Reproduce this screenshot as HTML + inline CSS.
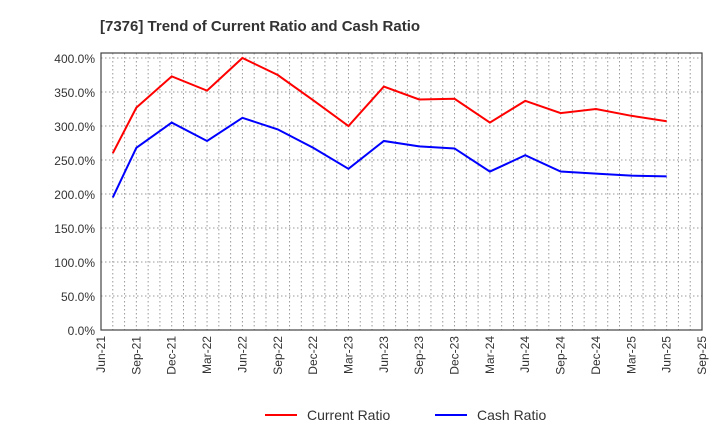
<!DOCTYPE html>
<html><head><meta charset="utf-8"><style>
body{margin:0;background:#fff;font-family:"Liberation Sans",sans-serif}
svg text{font-family:"Liberation Sans",sans-serif}
</style></head><body>
<svg width="720" height="440">
<text x="100" y="31" font-size="15" font-weight="bold" fill="#333">[7376]  Trend of Current Ratio and Cash Ratio</text>
<g id="grid"></g><g id="axes"></g><g id="series"></g>
<g>
<line x1="265" y1="415" x2="297" y2="415" stroke="#f00" stroke-width="2"/>
<text x="307" y="420" font-size="14" fill="#333">Current Ratio</text>
<line x1="435" y1="415" x2="467" y2="415" stroke="#00f" stroke-width="2"/>
<text x="477" y="420" font-size="14" fill="#333">Cash Ratio</text>
</g>
</svg>
<script>
const months=[1,3,6,9,12,15,18,21,24,27,30,33,36,39,42,45,48];
const currentRatio=[260,327,373,352,400,375,338,300,358,339,340,305,337,319,325,315,307];
const cashRatio=[195,268,305,278,312,295,268,237,278,270,267,233,257,233,230,227,226];
const xLabels=["Jun-21","Sep-21","Dec-21","Mar-22","Jun-22","Sep-22","Dec-22","Mar-23","Jun-23","Sep-23","Dec-23","Mar-24","Jun-24","Sep-24","Dec-24","Mar-25","Jun-25","Sep-25"];
const yTicks=[0,50,100,150,200,250,300,350,400];
const L=101,R=702,T=53,B=330,NS="http://www.w3.org/2000/svg";
const x=m=>L+(R-L)*m/51, y=v=>B-(v/400)*(B-58);
function mk(t,a,p){const e=document.createElementNS(NS,t);for(const k in a)e.setAttribute(k,a[k]);p.appendChild(e);return e;}
const g=document.getElementById('grid'),ax=document.getElementById('axes'),s=document.getElementById('series');
for(let m=1;m<51;m++){const l=mk('line',{x1:x(m),x2:x(m),y1:T,y2:B,stroke:'#999','stroke-dasharray':'1.5,2.5','stroke-width':1},g);

}
yTicks.forEach(v=>{const l=mk('line',{x1:L,x2:R,y1:y(v),y2:y(v),stroke:'#999','stroke-dasharray':'1.5,2.5','stroke-width':1},g);


const t=mk('text',{x:L-6,y:y(v)+5,'text-anchor':'end','font-size':12,fill:'#333'},ax);t.textContent=v.toFixed(1)+'%';

});
const f=mk('rect',{x:L,y:T,width:R-L,height:B-T,fill:'none',stroke:'#444','stroke-width':1.2},ax);


xLabels.forEach((lab,i)=>{const xx=x(i*3);const t=mk('text',{x:xx+4,y:B+6,'text-anchor':'end','font-size':12,fill:'#333',transform:`rotate(-90 ${xx+4} ${B+6})`},ax);t.textContent=lab;

});
[[currentRatio,'#f00','current-ratio-line'],[cashRatio,'#00f','cash-ratio-line']].forEach(([d,c,n])=>{
const p=mk('polyline',{points:d.map((v,i)=>x(months[i])+','+y(v)).join(' '),fill:'none',stroke:c,'stroke-width':2},s);

});
</script>
</body></html>
